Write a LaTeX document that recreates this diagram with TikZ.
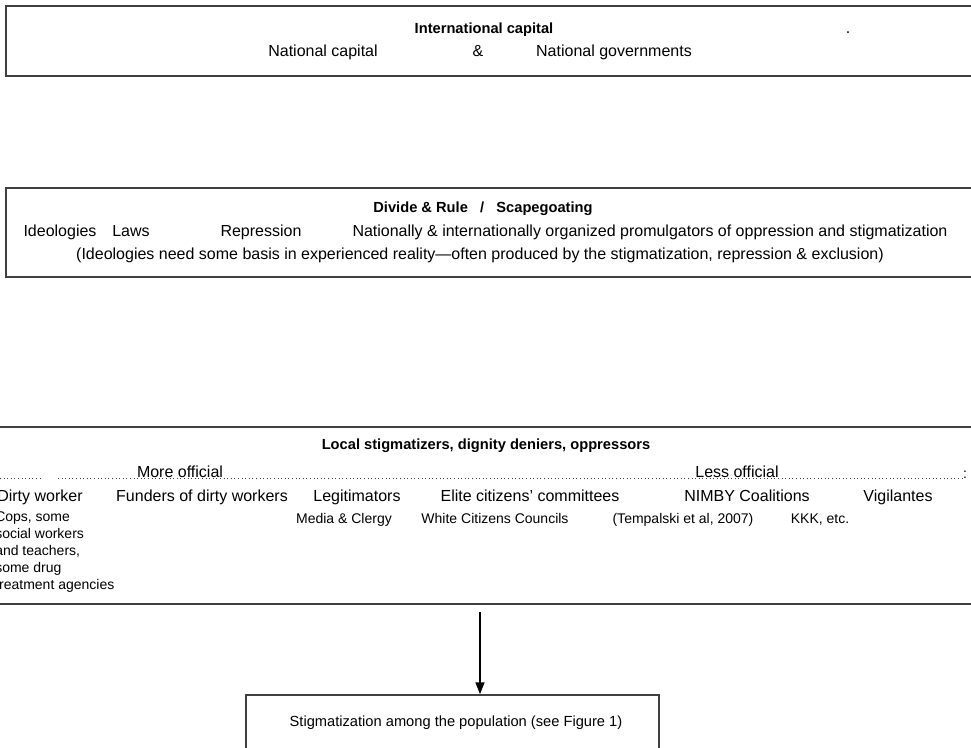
\documentclass[tikz,border=0pt]{standalone}
\usepackage{fontspec}
\setmainfont{Liberation Sans}
\usetikzlibrary{arrows.meta}
\begin{document}
\begin{tikzpicture}[x=0.75pt, y=-0.75pt,
    panel/.style ={draw=black!75, line width=1pt, inner sep=0pt},
    head/.style ={inner sep=0pt, anchor=base, font=\bfseries\fontsize{11}{13}\selectfont},
    item/.style ={inner sep=0pt, anchor=base, font=\fontsize{12}{14}\selectfont},
    note/.style ={inner sep=0pt, anchor=base, font=\fontsize{10.5}{12.75}\selectfont},
    dotline/.style ={draw=black!75, line width=0.7pt, dash pattern=on 0.7pt off 2pt}]
   \useasboundingbox (0,0) rectangle (971,748);
   \clip (0,0) rectangle (971,748);
   % capital
   \node[panel, minimum width=738pt, minimum height=52.5pt] (capital) at (498,41) {};
   \node[head] (intcap) at (484,34) {International capital};
   \node[item] (natcap) at (323,57) {National capital};
   \node[item] (amp) at (478,57) {\&};
   \node[item] (natgov) at (614,57) {National governments};
   \node[item] (dot) at (848,34) {.};
   % divide and rule
   \node[panel, minimum width=738pt, minimum height=66.75pt] (divide) at (498,232.5) {};
   \node[head] (divhead) at (483,213) {Divide \& Rule~~~/~~~Scapegoating};
   \node[item] (ideol) at (60,237) {Ideologies};
   \node[item] (laws) at (131,237) {Laws};
   \node[item] (repr) at (261,237) {Repression};
   \node[item] (promul) at (650,237) {Nationally \& internationally organized promulgators of oppression and stigmatization};
   \node[item] (basis) at (480,260) {(Ideologies need some basis in experienced reality—often produced by the stigmatization, repression \& exclusion)};
   % local stigmatizers
   \node[panel, minimum width=750pt, minimum height=132.75pt] (local) at (490,515.5) {};
   \node[head] (lochead) at (486,450) {Local stigmatizers, dignity deniers, oppressors};
   \coordinate (sl) at (0,478);
   \coordinate (sg) at (43,478);
   \coordinate (sr) at (962,478);
   \draw[dotline] (sl) -- (sg);
   \draw[dotline] (sg) ++(15,0) -- (sr);
   \node[item, fill=white] (more) at (180,477) {More official};
   \node[item, fill=white] (less) at (737,477) {Less official};
   \node[note] (colon) at (965,479) {:};
   \node[item, anchor=base west] (dirty) at (-3,501) {Dirty worker};
   \node[item] (funders) at (202,501) {Funders of dirty workers};
   \node[item] (legit) at (357,501) {Legitimators};
   \node[item] (elite) at (530,501) {Elite citizens' committees};
   \node[item] (nimby) at (747,501) {NIMBY Coalitions};
   \node[item] (vigil) at (898,501) {Vigilantes};
   \node[note, anchor=north west, align=left, inner sep=0pt] (cops) at (-5,511) {Cops, some\\social workers\\and teachers,\\some drug\\treatment agencies};
   \node[note] (media) at (344,523) {Media \& Clergy};
   \node[note] (white) at (495,523) {White Citizens Councils};
   \node[note] (tempal) at (683,523) {(Tempalski et al, 2007)};
   \node[note] (kkk) at (820,523) {KKK, etc.};
   % population
   \node[panel, minimum width=309.75pt, minimum height=56.25pt] (popul) at (452.5,732.5) {};
   \node[item, font=\fontsize{11}{13}\selectfont] (poptext) at (456,726) {Stigmatization among the population (see Figure 1)};
   \coordinate (arrtop) at (480,612);
   \draw[line width=1.8pt, -{Triangle[length=9pt, width=6.5pt]}] (arrtop) -- (arrtop |- popul.north);
\end{tikzpicture}
\end{document}
